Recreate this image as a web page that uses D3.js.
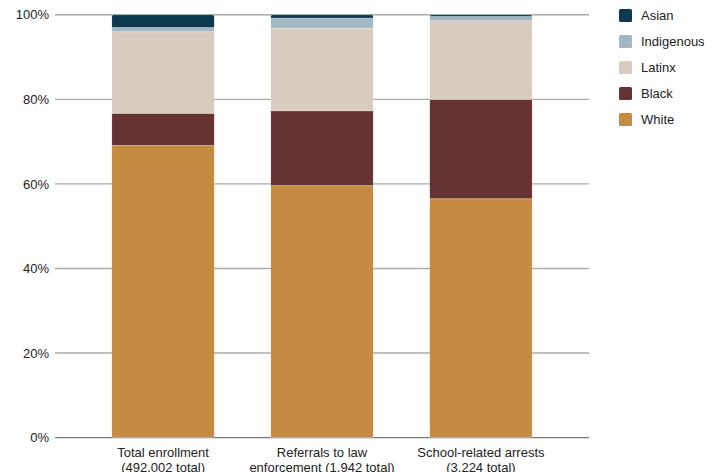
<!DOCTYPE html>
<html>
<head>
<meta charset="utf-8">
<script src="https://cdn.jsdelivr.net/npm/d3@7"></script>
<style>
  html, body { margin: 0; padding: 0; background: #fff; }
  svg { display: block; font-family: "Liberation Sans", Arial, Helvetica, sans-serif; }
</style>
</head>
<body>
<svg id="chart" width="714" height="472"></svg>
<script>
// Share of students by race, per outcome (percent of each bar)
const categories = [
  ["Total enrollment", "(492,002 total)"],
  ["Referrals to law", "enforcement (1,942 total)"],
  ["School-related arrests", "(3,224 total)"]
];
const seriesNames = ["White", "Black", "Latinx", "Indigenous", "Asian"];
const white      = [69.1, 59.6, 56.5];
const black      = [7.6, 17.7, 23.5];
const latinx     = [19.3, 19.5, 18.6];
const indigenous = [1.0, 2.4, 1.0];
const asian      = [3.0, 0.8, 0.4];
const yTicks = [0, 20, 40, 60, 80, 100];
const colors = ["#c68b42", "#653333", "#d8ccc1", "#a3b8c5", "#0d3a50"];

const rows = categories.map((c, i) => ({
  key: i,
  White: white[i], Black: black[i], Latinx: latinx[i],
  Indigenous: indigenous[i], Asian: asian[i]
}));

const svg = d3.select("#chart");
const x = d3.scaleBand().domain(d3.range(categories.length))
  .range([55, 589]).paddingInner(0.354).paddingOuter(0.357);
const y = d3.scaleLinear().domain([0, 100]).range([437.6, 14.8]);
const color = d3.scaleOrdinal().domain(seriesNames).range(colors);

// Grid lines and tick labels
const grid = svg.append("g");
grid.selectAll("line").data(yTicks).join("line")
  .attr("x1", 55).attr("x2", 589)
  .attr("y1", d => y(d)).attr("y2", d => y(d))
  .attr("stroke", d => d === 0 ? "#777" : "#aaa")
  .attr("stroke-width", 1.4);
grid.selectAll("text").data(yTicks).join("text")
  .attr("x", 49).attr("y", d => y(d)).attr("dy", "0.36em")
  .attr("text-anchor", "end").attr("font-size", 13).attr("fill", "#222")
  .text(d => d + "%");

// Clip each column so its top corners are slightly rounded
const stack = d3.stack().keys(seriesNames)(rows);
const totals = rows.map(r => d3.sum(seriesNames, k => r[k]));
const defs = svg.append("defs");
rows.forEach((r, i) => {
  defs.append("clipPath").attr("id", "col" + i)
    .append("rect")
      .attr("x", x(i)).attr("width", x.bandwidth())
      .attr("y", y(totals[i])).attr("height", y(0) - y(totals[i]) + 4)
      .attr("rx", 2.5);
});

// Stacked bars
const layers = svg.append("g").selectAll("g").data(stack).join("g")
  .attr("fill", d => color(d.key));
layers.selectAll("rect").data(d => d).join("rect")
  .attr("clip-path", d => `url(#col${d.data.key})`)
  .attr("x", d => x(d.data.key))
  .attr("width", x.bandwidth())
  .attr("y", d => y(d[1]))
  .attr("height", d => y(d[0]) - y(d[1]))
  .attr("stroke", "rgba(255,255,255,0.35)")
  .attr("stroke-width", 0.8);

// Category labels
const xl = svg.append("g");
categories.forEach((lines, i) => {
  const t = xl.append("text")
    .attr("x", x(i) + x.bandwidth() / 2)
    .attr("text-anchor", "middle").attr("font-size", 13).attr("fill", "#222");
  lines.forEach((ln, j) => {
    t.append("tspan").attr("x", x(i) + x.bandwidth() / 2)
      .attr("y", 456.5 + j * 15).text(ln);
  });
});

// Legend, top to bottom in reverse stack order
const legendItems = seriesNames.slice().reverse();
const lg = svg.append("g").selectAll("g").data(legendItems).join("g")
  .attr("transform", (d, i) => `translate(619,${9 + i * 26})`);
lg.append("rect").attr("width", 13).attr("height", 13).attr("rx", 1.5)
  .attr("fill", d => color(d));
lg.append("text").attr("x", 22).attr("y", 6.5).attr("dy", "0.36em")
  .attr("font-size", 13).attr("fill", "#222").text(d => d);
</script>
</body>
</html>
